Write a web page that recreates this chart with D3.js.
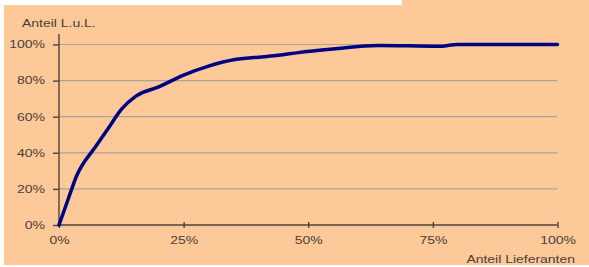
<!DOCTYPE html>
<html>
<head>
<meta charset="utf-8">
<script src="https://cdn.jsdelivr.net/npm/d3@7"></script>
<style>
  html, body { margin: 0; padding: 0; background: #fff; }
  svg { display: block; }
</style>
</head>
<body>
<div id="chart"></div>
<script>
// Lorenz-style curve: share of suppliers vs. share of L.u.L.
const supplierShare = [0, 1.8, 3.5, 7.5, 10, 12.5, 15.5, 20, 25, 30, 35, 40, 44, 48, 55, 64, 76, 80, 100];
const volumeShare   = [0, 14, 27, 44, 54, 64, 71.5, 76.5, 83, 88, 91.5, 93, 94, 95.5, 97.5, 99.5, 99, 100, 100];
const xTicks = [0, 25, 50, 75, 100];
const yTicks = [0, 20, 40, 60, 80, 100];
const yTitle = "Anteil L.u.L.";
const xTitle = "Anteil Lieferanten";

const width = 589, height = 267;
const font = "'Liberation Sans', Arial, sans-serif";
const textColor = "#4a4038";
const stretch = 1.33; // the original text is horizontally widened

const svg = d3.select("#chart").append("svg")
    .attr("width", width)
    .attr("height", height);

// peach background with the white margin strips
svg.append("rect").attr("x", 4).attr("y", 0).attr("width", width - 4).attr("height", 265)
    .attr("fill", "#fdc998");
svg.append("rect").attr("x", 0).attr("y", 0).attr("width", 402).attr("height", 5)
    .attr("fill", "#fff");

const x = d3.scaleLinear().domain([0, 100]).range([59, 557.5]);
const y = d3.scaleLinear().domain([0, 100]).range([225, 44.5]);

// gridlines
svg.append("g")
    .selectAll("line")
    .data(yTicks.filter(d => d > 0))
    .join("line")
    .attr("x1", x(0)).attr("x2", x(100))
    .attr("y1", d => y(d)).attr("y2", d => y(d))
    .attr("stroke", "#a9a39c")
    .attr("stroke-width", 1.2);

// y axis
const yAxis = svg.append("g")
    .attr("transform", `translate(${x(0)},0)`)
    .call(d3.axisLeft(y).tickValues(yTicks).tickFormat(d => d + "%").tickSize(6).tickPadding(8));
yAxis.select(".domain").attr("d", `M0,34V${y(0)}`);

// x axis
const xAxis = svg.append("g")
    .attr("transform", `translate(0,${y(0)})`)
    .call(d3.axisBottom(x).tickValues(xTicks).tickFormat(d => d + "%").tickSize(3).tickPadding(9));
xAxis.selectAll(".tick line").attr("y1", -3).attr("y2", 3);
xAxis.select(".domain").attr("d", `M${x(0)},0H${x(100)}`);

svg.selectAll(".domain, .tick line")
    .attr("stroke", "#4a4540")
    .attr("stroke-width", 1.4);
svg.selectAll(".tick text")
    .attr("fill", textColor)
    .style("font-family", font)
    .style("font-size", "10.5px");

// curve
const pts = supplierShare.map((d, i) => [d, volumeShare[i]]);
svg.append("path")
    .datum(pts)
    .attr("fill", "none")
    .attr("stroke", "#000082")
    .attr("stroke-width", 3.5)
    .attr("stroke-linejoin", "round")
    .attr("stroke-linecap", "round")
    .attr("d", d3.line().x(d => x(d[0])).y(d => y(d[1])).curve(d3.curveMonotoneX));

// axis titles
svg.append("text")
    .attr("x", 22).attr("y", 27)
    .attr("fill", textColor)
    .style("font-family", font)
    .style("font-size", "10.5px")
    .text(yTitle);

svg.append("text")
    .attr("x", 575).attr("y", 263)
    .attr("text-anchor", "end")
    .attr("fill", textColor)
    .style("font-family", font)
    .style("font-size", "10.5px")
    .text(xTitle);

// widen every label around its anchor point
svg.selectAll("text").each(function () {
    const t = d3.select(this);
    const tx = +t.attr("x") || 0, ty = +t.attr("y") || 0;
    t.attr("x", 0).attr("y", 0)
        .attr("transform", `translate(${tx},${ty}) scale(${stretch},1)`);
});
</script>
</body>
</html>
